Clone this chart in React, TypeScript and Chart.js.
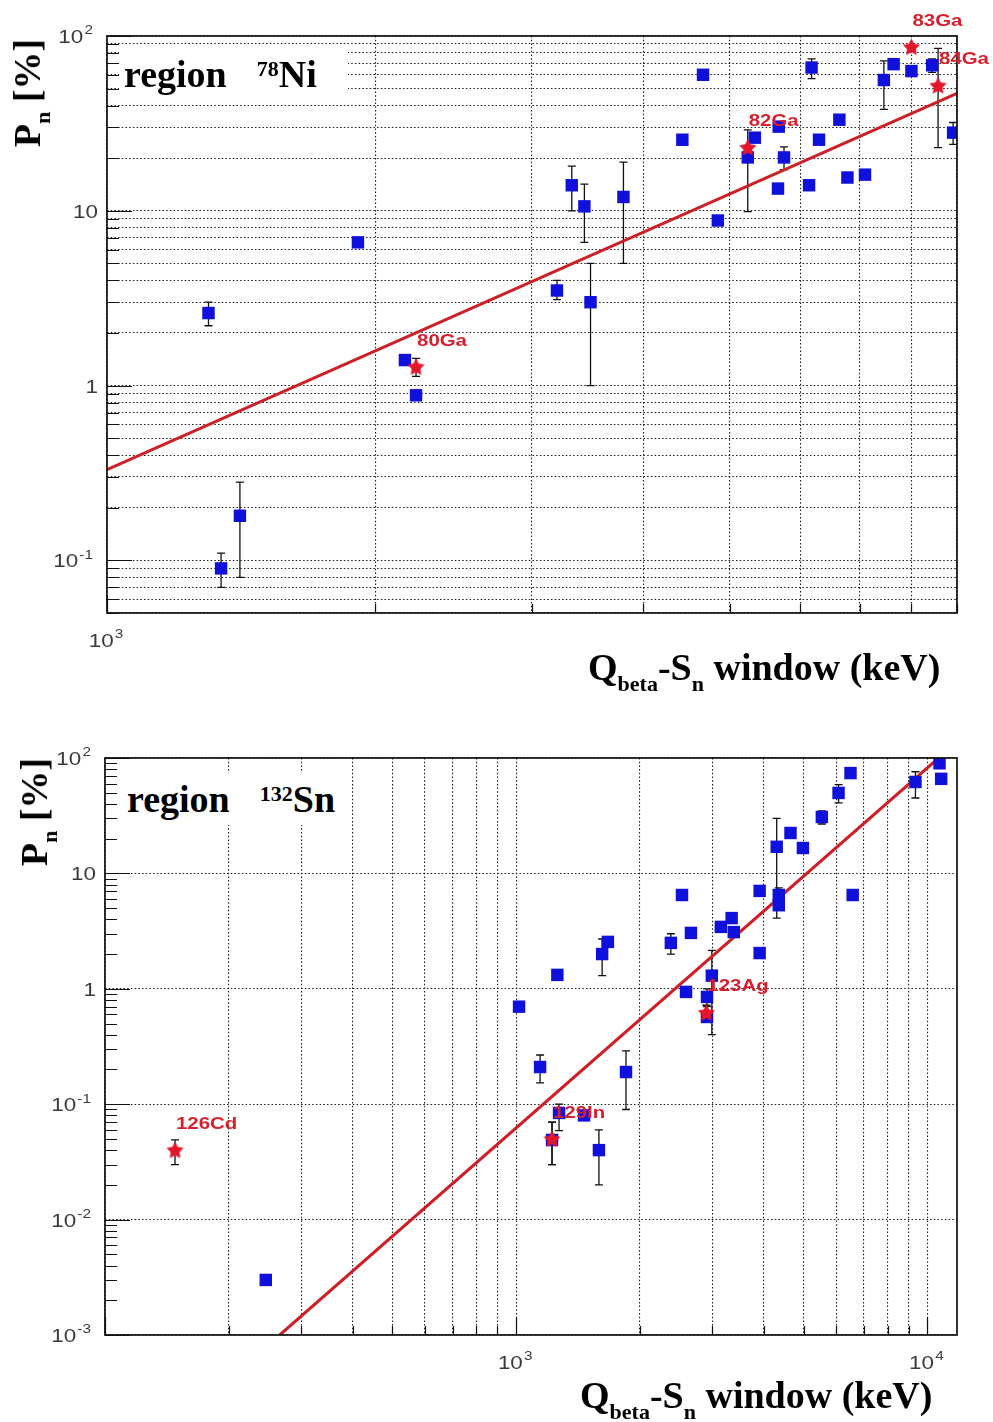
import React, { useEffect, useRef } from "react";
import { Chart, registerables } from "chart.js";
Chart.register(...registerables);

// ================= Panel 1 : region 78Ni =================
const niBlueX = [1300, 1343, 1410, 1913, 2160, 2223, 3200, 3325, 3435, 3490, 3800, 4425, 4668, 4850, 5240, 5337, 5677, 5755, 5666, 6180, 6140, 6300, 6640, 6780, 7095, 7450, 7640, 8000, 8440, 8910];
const niBlueY = [2.6, 0.09, 0.18, 6.6, 1.4, 0.88, 3.5, 14, 10.6, 3.0, 12, 25.5, 60, 8.8, 20.2, 26.2, 30.3, 20.2, 13.4, 66, 14, 25.5, 33.2, 15.5, 16.1, 56, 69, 63, 68, 28];
const niBlueErrMinus = [0.4, 0.02, 0.1, 0, 0, 0, 0.4, 4, 4, 2, 7, 0, 0, 0, 10.3, 0, 0, 3, 0, 9, 0, 0, 0, 0, 0, 18, 3, 0, 6, 4];
const niBlueErrPlus = [0.4, 0.02, 0.1, 0, 0, 0, 0.5, 4, 3.6, 2, 7, 0, 0, 0, 8.8, 0, 0, 3, 0, 8, 0, 0, 0, 0, 0, 16, 3, 0, 6, 4];

const niRedX = [2223, 5240, 8000, 8570];
const niRedY = [1.28, 23, 86.5, 52];
const niRedErrMinus = [0.15, 0, 0, 29];
const niRedErrPlus = [0.15, 0, 0, 33];
const niRedLabels = ["80Ga", "82Ga", "83Ga", "84Ga"];

const niFitX = [1000, 9000];
const niFitY = [0.33, 47];

const niXTicks = [1000, 2000, 3000, 4000, 5000, 6000, 7000, 8000, 9000];
const niYTicks = [0.05, 0.06, 0.07, 0.08, 0.09, 0.1, 0.2, 0.3, 0.4, 0.5, 0.6, 0.7, 0.8, 0.9, 1, 2, 3, 4, 5, 6, 7, 8, 9, 10, 20, 30, 40, 50, 60, 70, 80, 90, 100];
const niXLabelValues = [1000];
const niXLabelTexts = ["10^3"];
const niYLabelValues = [100, 10, 1, 0.1];
const niYLabelTexts = ["10^2", "10", "1", "10^-1"];

// ================= Panel 2 : region 132Sn =================
const snBlueX = [246, 1016, 1143, 1222, 1271, 1259, 1462, 1589, 1618, 1671, 1849, 2377, 2530, 2588, 2660, 2910, 2910, 2990, 3145, 3341, 3381, 3908, 3908, 4300, 4350, 4350, 4645, 4980, 5536, 6080, 6500, 6580, 9350, 10700, 10800];
const snBlueY = [0.003, 0.7, 0.21, 0.049, 0.084, 1.32, 0.08, 0.04, 2.0, 2.55, 0.19, 2.5, 6.5, 0.94, 3.05, 0.85, 0.57, 1.3, 3.44, 4.1, 3.1, 7.05, 2.04, 17, 6.5, 5.3, 22.4, 16.6, 30.8, 49.8, 74, 6.5, 62, 90, 66];
const snBlueErrMinus = [0, 0, 0.057, 0.019, 0.025, 0, 0, 0.02, 0.7, 0, 0.1, 0.5, 0, 0, 0, 0.15, 0, 0.9, 0, 0, 0, 0, 0.2, 12.9, 1, 0, 2, 0, 4, 9, 0, 0.5, 17, 0, 0];
const snBlueErrPlus = [0, 0, 0.057, 0.021, 0.016, 0, 0, 0.02, 0.7, 0, 0.1, 0.5, 0, 0, 0, 0.15, 0, 0.85, 0, 0, 0, 0, 0.2, 13, 1, 0, 2, 0, 4, 9, 0, 0.5, 14, 0, 0];

const snRedX = [148, 1222, 2900];
const snRedY = [0.04, 0.05, 0.62];
const snRedErrMinus = [0.01, 0.02, 0.1];
const snRedErrPlus = [0.009, 0.02, 0.1];
const snRedLabels = ["126Cd", "129In", "123Ag"];

const snFitX = [266, 10640];
const snFitY = [0.001, 100];

const snXTicks = [100, 200, 300, 400, 500, 600, 700, 800, 900, 1000, 2000, 3000, 4000, 5000, 6000, 7000, 8000, 9000, 10000];
const snYTicks = [0.001, 0.002, 0.003, 0.004, 0.005, 0.006, 0.007, 0.008, 0.009, 0.01, 0.02, 0.03, 0.04, 0.05, 0.06, 0.07, 0.08, 0.09, 0.1, 0.2, 0.3, 0.4, 0.5, 0.6, 0.7, 0.8, 0.9, 1, 2, 3, 4, 5, 6, 7, 8, 9, 10, 20, 30, 40, 50, 60, 70, 80, 90, 100];
const snXLabelValues = [1000, 10000];
const snXLabelTexts = ["10^3", "10^4"];
const snYLabelValues = [100, 10, 1, 0.1, 0.01, 0.001];
const snYLabelTexts = ["10^2", "10", "1", "10^-1", "10^-2", "10^-3"];

// ================= styling =================
const SANS = "'Liberation Sans', Arial, Helvetica, sans-serif";
const SERIF = "'Liberation Serif', 'Times New Roman', Times, serif";
const BLUE = "#1010dc";
const RED = "#e3162a";
const FIT = "#cc1f26";
const LABEL_RED = "#d81f2d";
const TICK_GRAY = "#3a3a3a";
const TEXT_SX = 1.18;

const isDecade = (v: number) => Math.abs(Math.log10(v) - Math.round(Math.log10(v))) < 1e-6;

function makeStar(color: string, size: number) {
  const c = document.createElement("canvas");
  c.width = size;
  c.height = size;
  const g = c.getContext("2d")!;
  const cx = size / 2, cy = size / 2 + 0.6, R = size / 2 - 0.5, r = R * 0.52;
  g.beginPath();
  for (let i = 0; i < 10; i++) {
    const a = -Math.PI / 2 + (i * Math.PI) / 5;
    const rad = i % 2 === 0 ? R : r;
    g.lineTo(cx + rad * Math.cos(a), cy + rad * Math.sin(a));
  }
  g.closePath();
  g.fillStyle = color;
  g.fill();
  return c;
}

function drawLabel(ctx: CanvasRenderingContext2D, text: string, x: number, y: number, align: "left" | "right" | "center", size: number) {
  const [base, exp] = text.split("^");
  const fBase = `${size}px ${SANS}`;
  const fExp = `${Math.round(size * 0.68)}px ${SANS}`;
  ctx.save();
  ctx.font = fBase;
  const wb = ctx.measureText(base).width;
  ctx.font = fExp;
  const we = exp ? ctx.measureText(exp).width + 1 : 0;
  const total = (wb + we) * TEXT_SX;
  let x0 = x;
  if (align === "right") x0 = x - total;
  if (align === "center") x0 = x - total / 2;
  ctx.translate(x0, y);
  ctx.scale(TEXT_SX, 1);
  ctx.fillStyle = TICK_GRAY;
  ctx.textAlign = "left";
  ctx.textBaseline = "alphabetic";
  ctx.font = fBase;
  ctx.fillText(base, 0, 0);
  if (exp) {
    ctx.font = fExp;
    ctx.fillText(exp, wb + 1, -size * 0.45);
  }
  ctx.restore();
}

type PanelProps = {
  top: number;
  height: number;
  left: number;
  right: number;
  areaTop: number;
  areaBottom: number;
  xMin: number;
  xMax: number;
  yMin: number;
  yMax: number;
  xTicks: number[];
  yTicks: number[];
  yGridDecadesOnly: boolean;
  xLabelValues: number[];
  xLabelTexts: string[];
  yLabelValues: number[];
  yLabelTexts: string[];
  blueX: number[];
  blueY: number[];
  blueEm: number[];
  blueEp: number[];
  redX: number[];
  redY: number[];
  redEm: number[];
  redEp: number[];
  redLabels: string[];
  fitX: number[];
  fitY: number[];
};

function Panel(p: PanelProps) {
  const ref = useRef<HTMLCanvasElement | null>(null);
  useEffect(() => {
    const canvas = ref.current!;
    const W = 993;
    const star = makeStar(RED, 19);

    const plugin = {
      id: "rootStyle",
      beforeDatasetsDraw(chart: any) {
        const ctx = chart.ctx as CanvasRenderingContext2D;
        const ys = chart.scales.y;
        const a = chart.chartArea;
        ctx.save();
        ctx.beginPath();
        ctx.rect(a.left, a.top, a.right - a.left, a.bottom - a.top);
        ctx.clip();
        ctx.strokeStyle = "#111";
        ctx.lineWidth = 1.3;
        chart.data.datasets.forEach((ds: any, i: number) => {
          if (!ds.errMinus) return;
          const meta = chart.getDatasetMeta(i);
          meta.data.forEach((pt: any, j: number) => {
            const em = ds.errMinus[j], ep = ds.errPlus[j];
            if (!em && !ep) return;
            const v = ds.data[j].y;
            const y1 = ys.getPixelForValue(v + ep);
            const y2 = ys.getPixelForValue(v - em);
            const x = pt.x;
            ctx.beginPath();
            ctx.moveTo(x, y1);
            ctx.lineTo(x, y2);
            ctx.moveTo(x - 4, y1);
            ctx.lineTo(x + 4, y1);
            ctx.moveTo(x - 4, y2);
            ctx.lineTo(x + 4, y2);
            ctx.stroke();
          });
        });
        ctx.restore();
      },
      afterDraw(chart: any) {
        const ctx = chart.ctx as CanvasRenderingContext2D;
        const xs = chart.scales.x;
        const ys = chart.scales.y;
        const a = chart.chartArea;
        ctx.save();
        ctx.strokeStyle = "#111";
        ctx.lineWidth = 1.2;
        ctx.beginPath();
        p.yTicks.forEach((v) => {
          const y = Math.round(ys.getPixelForValue(v)) + 0.5;
          const len = isDecade(v) ? 25 : 12;
          ctx.moveTo(a.left, y);
          ctx.lineTo(a.left + len, y);
        });
        p.xTicks.forEach((v) => {
          const x = Math.round(xs.getPixelForValue(v)) + 0.5;
          const len = isDecade(v) ? 17 : 9;
          ctx.moveTo(x, a.bottom);
          ctx.lineTo(x, a.bottom - len);
        });
        ctx.stroke();
        ctx.lineWidth = 1.7;
        ctx.strokeStyle = "#111";
        ctx.strokeRect(a.left, a.top, a.right - a.left, a.bottom - a.top);
        p.yLabelValues.forEach((v, i) => {
          const y = ys.getPixelForValue(v) + 7;
          const t = p.yLabelTexts[i];
          const hasExp = t.indexOf("^") >= 0;
          drawLabel(ctx, t, hasExp ? a.left - 14 : a.left - 9, y, "right", 19);
        });
        p.xLabelValues.forEach((v, i) => {
          const x = xs.getPixelForValue(v);
          drawLabel(ctx, p.xLabelTexts[i], x - 1, a.bottom + 34, "center", 19);
        });
        chart.data.datasets.forEach((ds: any, i: number) => {
          if (!ds.pointNames) return;
          const meta = chart.getDatasetMeta(i);
          meta.data.forEach((pt: any, j: number) => {
            ctx.save();
            ctx.translate(pt.x + 1, pt.y - 26);
            ctx.scale(1.2, 1);
            ctx.font = `bold 17px ${SANS}`;
            ctx.fillStyle = LABEL_RED;
            ctx.textAlign = "left";
            ctx.textBaseline = "middle";
            ctx.fillText(ds.pointNames[j], 0, 0);
            ctx.restore();
          });
        });
        ctx.restore();
      },
    };

    const gridColor = (isY: boolean) => (c: any) => {
      const v = c.tick ? c.tick.value : NaN;
      if (isY && p.yGridDecadesOnly && !isDecade(v)) return "rgba(0,0,0,0)";
      return "#1a1a1a";
    };

    const chart = new Chart(canvas, {
      type: "scatter",
      data: {
        datasets: [
          {
            label: "fit",
            data: p.fitX.map((x, i) => ({ x, y: p.fitY[i] })),
            showLine: true,
            borderColor: FIT,
            borderWidth: 3,
            pointRadius: 0,
            order: 3,
          } as any,
          {
            label: "blue",
            data: p.blueX.map((x, i) => ({ x, y: p.blueY[i] })),
            pointStyle: "rect",
            pointRadius: 8.8,
            backgroundColor: BLUE,
            borderWidth: 0,
            errMinus: p.blueEm,
            errPlus: p.blueEp,
            order: 2,
          } as any,
          {
            label: "red",
            data: p.redX.map((x, i) => ({ x, y: p.redY[i] })),
            pointStyle: star,
            pointRadius: 9,
            backgroundColor: RED,
            borderWidth: 0,
            errMinus: p.redEm,
            errPlus: p.redEp,
            pointNames: p.redLabels,
            order: 1,
          } as any,
        ],
      },
      options: {
        responsive: false,
        animation: false,
        events: [],
        layout: { padding: { left: 0, right: W - p.right, top: p.areaTop, bottom: 0 } },
        plugins: { legend: { display: false }, tooltip: { enabled: false } },
        scales: {
          x: {
            type: "logarithmic",
            min: p.xMin,
            max: p.xMax,
            bounds: "data",
            afterBuildTicks: (s: any) => {
              s.ticks = p.xTicks.map((v) => ({ value: v }));
            },
            afterFit: (s: any) => {
              s.height = p.height - p.areaBottom;
            },
            ticks: { display: false },
            grid: { color: gridColor(false), lineWidth: 1.1, drawTicks: false },
            border: { display: false, dash: [1.5, 2.2] },
          },
          y: {
            type: "logarithmic",
            min: p.yMin,
            max: p.yMax,
            bounds: "data",
            afterBuildTicks: (s: any) => {
              s.ticks = p.yTicks.map((v) => ({ value: v }));
            },
            afterFit: (s: any) => {
              s.width = p.left;
            },
            ticks: { display: false },
            grid: { color: gridColor(true), lineWidth: 1.1, drawTicks: false },
            border: { display: false, dash: [1.5, 2.2] },
          },
        },
      } as any,
      plugins: [plugin as any],
    });
    return () => chart.destroy();
  }, []);
  return (
    <canvas
      ref={ref}
      width={993}
      height={p.height}
      style={{ position: "absolute", left: 0, top: p.top, width: 993, height: p.height }}
    />
  );
}

function YTitle({ cx, cy }: { cx: number; cy: number }) {
  return (
    <div
      style={{
        position: "absolute",
        left: cx,
        top: cy,
        transform: "translate(-50%,-50%) rotate(-90deg)",
        font: `bold 38px ${SERIF}`,
        lineHeight: "38px",
        whiteSpace: "nowrap",
        color: "#000",
      }}
    >
      P<span style={{ fontSize: 22, position: "relative", top: 10 }}>n</span> [%]
    </div>
  );
}

function XTitle({ left, baseline }: { left: number; baseline: number }) {
  return (
    <div
      style={{
        position: "absolute",
        left,
        top: baseline - 31.8,
        font: `bold 38px ${SERIF}`,
        lineHeight: "38px",
        whiteSpace: "nowrap",
        color: "#000",
      }}
    >
      Q<span style={{ fontSize: 22, position: "relative", top: 11 }}>beta</span>-S
      <span style={{ fontSize: 22, position: "relative", top: 11 }}>n</span> window (keV)
    </div>
  );
}

function RegionLabel(props: {
  boxLeft: number; boxTop: number; boxW: number; boxH: number;
  textLeft: number; baseline: number; gap: number; sup: string; nucleus: string;
}) {
  return (
    <>
      <div
        style={{
          position: "absolute",
          left: props.boxLeft,
          top: props.boxTop,
          width: props.boxW,
          height: props.boxH,
          background: "#fff",
        }}
      />
      <div
        style={{
          position: "absolute",
          left: props.textLeft,
          top: props.baseline - 31.8,
          font: `bold 38px ${SERIF}`,
          lineHeight: "38px",
          whiteSpace: "nowrap",
          color: "#000",
        }}
      >
        region
        <span style={{ fontSize: 22, position: "relative", top: -11, marginLeft: props.gap }}>{props.sup}</span>
        {props.nucleus}
      </div>
    </>
  );
}

export default function App() {
  return (
    <div style={{ position: "absolute", left: 0, top: 0, width: 993, height: 1422, background: "#fff", overflow: "hidden" }}>
      <Panel
        top={0}
        height={700}
        left={107}
        right={957}
        areaTop={36}
        areaBottom={613}
        xMin={1000}
        xMax={9000}
        yMin={0.05}
        yMax={100}
        xTicks={niXTicks}
        yTicks={niYTicks}
        yGridDecadesOnly={false}
        xLabelValues={niXLabelValues}
        xLabelTexts={niXLabelTexts}
        yLabelValues={niYLabelValues}
        yLabelTexts={niYLabelTexts}
        blueX={niBlueX}
        blueY={niBlueY}
        blueEm={niBlueErrMinus}
        blueEp={niBlueErrPlus}
        redX={niRedX}
        redY={niRedY}
        redEm={niRedErrMinus}
        redEp={niRedErrPlus}
        redLabels={niRedLabels}
        fitX={niFitX}
        fitY={niFitY}
      />
      <Panel
        top={711}
        height={711}
        left={105}
        right={957}
        areaTop={47}
        areaBottom={624}
        xMin={100}
        xMax={11800}
        yMin={0.001}
        yMax={100}
        xTicks={snXTicks}
        yTicks={snYTicks}
        yGridDecadesOnly={true}
        xLabelValues={snXLabelValues}
        xLabelTexts={snXLabelTexts}
        yLabelValues={snYLabelValues}
        yLabelTexts={snYLabelTexts}
        blueX={snBlueX}
        blueY={snBlueY}
        blueEm={snBlueErrMinus}
        blueEp={snBlueErrPlus}
        redX={snRedX}
        redY={snRedY}
        redEm={snRedErrMinus}
        redEp={snRedErrPlus}
        redLabels={snRedLabels}
        fitX={snFitX}
        fitY={snFitY}
      />
      <RegionLabel boxLeft={119} boxTop={52} boxW={229} boxH={45} textLeft={124} baseline={87} gap={30} sup="78" nucleus="Ni" />
      <RegionLabel boxLeft={119} boxTop={773} boxW={229} boxH={52} textLeft={127} baseline={812} gap={30} sup="132" nucleus="Sn" />
      <YTitle cx={30} cy={92.5} />
      <YTitle cx={37} cy={811.5} />
      <XTitle left={588} baseline={680} />
      <XTitle left={580} baseline={1408} />
    </div>
  );
}
